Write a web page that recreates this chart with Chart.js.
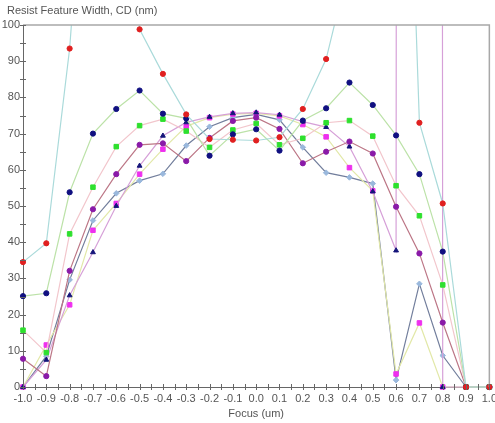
<!DOCTYPE html>
<html>
<head>
<meta charset="utf-8">
<script src="https://cdn.jsdelivr.net/npm/chart.js@4"></script>
<style>
  html, body { margin: 0; padding: 0; background: #fff; overflow: hidden; }
  #wrap { width: 502px; height: 423px; }
</style>
</head>
<body>
<div id="wrap"><canvas id="cdChart"></canvas></div>
<script>
// Focus positions (um)
const focus = [-1.0, -0.9, -0.8, -0.7, -0.6, -0.5, -0.4, -0.3, -0.2, -0.1, 0.0,
               0.1, 0.2, 0.3, 0.4, 0.5, 0.6, 0.7, 0.8, 0.9, 1.0];

// CD (nm) per dose; values over 100 run off the top of the plot
const cdRed      = [34.5, 39.7, 93.5, 180, 200, 98.8, 86.5, 75.3, 68.5, 68.3, 68.1, 69.0, 76.8, 90.6, 117, 180, 260, 73.0, 50.7, 0, 0];
const cdNavy     = [25.1, 25.9, 53.8, 70.0, 76.8, 81.9, 75.5, 74.2, 63.9, 69.8, 71.2, 65.3, 73.6, 77.0, 84.1, 77.9, 69.5, 58.8, 37.4, 0, 0];
const cdGreen    = [15.7, 9.5, 42.3, 55.2, 66.4, 72.2, 74.0, 70.7, 66.2, 71.0, 72.8, 66.9, 68.7, 73.0, 73.6, 69.3, 55.6, 47.3, 28.2, 0, 0];
const cdPurple   = [7.8, 3.0, 32.1, 49.1, 58.8, 66.9, 67.3, 62.4, 68.8, 73.5, 74.4, 71.3, 61.8, 65.0, 67.8, 64.5, 49.8, 36.9, 17.8, 0, 0];
const cdTriangle = [0, 7.5, 25.3, 37.2, 50.0, 61.1, 69.4, 73.1, 74.6, 75.6, 75.8, 75.2, 73.3, 71.8, 66.4, 54.0, 37.7, 20000, 0, 0, 0];
const cdMagenta  = [0, 11.6, 22.7, 43.3, 50.7, 58.8, 65.7, 72.0, 74.4, 75.4, 75.6, 74.9, 72.5, 69.1, 60.6, 54.2, 3.6, 17.7, 0, 0, 0];
const cdSteel    = [0, 8.5, 29.6, 46.0, 53.5, 57.0, 58.9, 66.7, 71.9, 74.4, 75.3, 73.8, 66.2, 59.2, 57.9, 56.2, 1.9, 28.5, 8.7, 0, 0];

Chart.defaults.font.family = 'Arial, "Liberation Sans", sans-serif';
Chart.defaults.font.size = 11;
Chart.defaults.color = '#555';

function series(values, lineColor, markColor, style, radius) {
    return {
        data: focus.map((f, i) => ({ x: f, y: values[i] })),
        borderColor: lineColor,
        borderWidth: 1.2,
        pointStyle: style,
        pointRadius: radius,
        pointBackgroundColor: markColor,
        pointBorderColor: markColor,
        pointBorderWidth: 1,
        tension: 0,
        clip: { left: 6, right: 6, top: 0, bottom: 6 }
    };
}

// frame, tick crosses and the y title
const axisDecor = {
    id: 'axisDecor',
    afterDraw(chart) {
        const { ctx, chartArea: a, scales } = chart;
        ctx.save();
        ctx.strokeStyle = '#a8a8a8';
        ctx.lineWidth = 1.5;
        ctx.beginPath();
        ctx.moveTo(a.left, a.top);
        ctx.lineTo(a.right, a.top);
        ctx.lineTo(a.right, a.bottom);
        ctx.stroke();

        ctx.strokeStyle = '#666';
        ctx.lineWidth = 1;
        ctx.beginPath();
        scales.y.ticks.forEach(t => {
            const py = Math.round(scales.y.getPixelForValue(t.value)) + 0.5;
            ctx.moveTo(a.left - 3, py);
            ctx.lineTo(a.left + 3, py);
        });
        scales.x.ticks.forEach(t => {
            const px = Math.round(scales.x.getPixelForValue(t.value)) + 0.5;
            ctx.moveTo(px, a.bottom - 3);
            ctx.lineTo(px, a.bottom + 3);
        });
        ctx.stroke();

        ctx.fillStyle = '#555';
        ctx.font = '11px Arial, "Liberation Sans", sans-serif';
        ctx.textBaseline = 'middle';
        ctx.textAlign = 'left';
        ctx.fillText('Resist Feature Width, CD (nm)', 7, 11);
        ctx.restore();
    }
};

const ctx = document.getElementById('cdChart').getContext('2d');
new Chart(ctx, {
    type: 'line',
    data: {
        datasets: [
            series(cdRed, '#aadada', '#e02020', 'circle', 2.6),
            series(cdNavy, '#bce2a8', '#101080', 'circle', 2.6),
            series(cdGreen, '#f2c6cc', '#2ee02e', 'rect', 3.2),
            series(cdPurple, '#bc7686', '#8a1aa8', 'circle', 2.6),
            series(cdTriangle, '#d6a0d8', '#15157a', 'triangle', 2.8),
            series(cdMagenta, '#e2e8a8', '#ee30ee', 'rect', 3.2),
            series(cdSteel, '#727e9c', '#9ab8dc', 'rectRot', 2.8)
        ]
    },
    options: {
        responsive: true,
        maintainAspectRatio: false,
        animation: false,
        layout: { padding: { top: 25, left: 0, right: 0, bottom: 0 } },
        plugins: {
            legend: { display: false },
            tooltip: { enabled: false }
        },
        scales: {
            x: {
                type: 'linear',
                min: -1,
                max: 1,
                grid: { display: true, drawOnChartArea: false, drawTicks: false },
                border: { display: true, color: '#666', width: 1 },
                ticks: {
                    stepSize: 0.05,
                    autoSkip: false,
                    maxRotation: 0,
                    padding: 5,
                    callback: v => {
                        const n = Math.round(v * 100);
                        return n % 10 === 0 ? (n / 100).toFixed(1) : '';
                    }
                },
                title: { display: true, text: 'Focus (um)', color: '#555', padding: { top: 0, bottom: 2 } },
                afterFit: s => { s.height = 36; }
            },
            y: {
                min: 0,
                max: 100,
                grid: { display: true, drawOnChartArea: false, drawTicks: false },
                border: { display: true, color: '#666', width: 1 },
                ticks: {
                    stepSize: 5,
                    padding: 3,
                    callback: v => (Math.round(v) % 10 === 0 ? String(Math.round(v)) : '')
                },
                afterFit: s => { s.width = 23; }
            }
        }
    },
    plugins: [axisDecor]
});
</script>
</body>
</html>
